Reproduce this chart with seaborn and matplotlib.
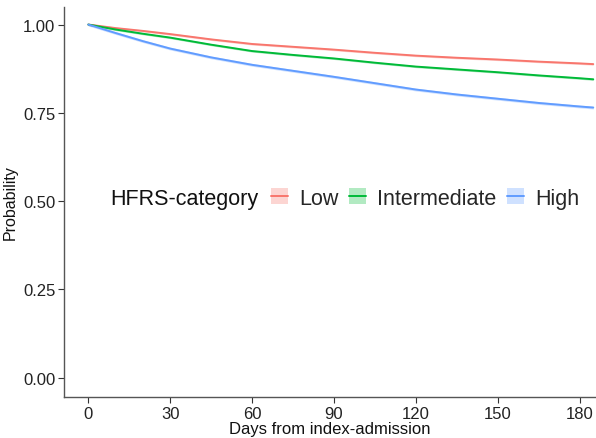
import numpy as np
import pandas as pd
import seaborn as sns
import matplotlib.pyplot as plt
from matplotlib.patches import Patch
from matplotlib.lines import Line2D

# values
days = [0, 5, 10, 20, 30, 45, 60, 75, 90, 105, 120, 135, 150, 165, 180, 185]
low = [1.0, 0.995, 0.990, 0.982, 0.973, 0.958, 0.945, 0.937, 0.929, 0.920,
       0.912, 0.906, 0.901, 0.895, 0.890, 0.888]
intermediate = [1.0, 0.993, 0.986, 0.974, 0.963, 0.943, 0.925, 0.914, 0.904,
                0.892, 0.881, 0.873, 0.865, 0.856, 0.848, 0.845]
high = [1.0, 0.988, 0.976, 0.953, 0.932, 0.907, 0.886, 0.869, 0.852, 0.834,
        0.816, 0.802, 0.790, 0.778, 0.768, 0.765]
ci_half = {"Low": 0.003, "Intermediate": 0.003, "High": 0.004}

groups = ["Low", "Intermediate", "High"]
colors = ["#F8766D", "#00BA38", "#619CFF"]
x_ticks = [0, 30, 60, 90, 120, 150, 180]
y_ticks = [0.0, 0.25, 0.5, 0.75, 1.0]

df = pd.concat([
    pd.DataFrame({"day": days, "prob": vals, "group": g})
    for g, vals in zip(groups, [low, intermediate, high])
])

sns.set_theme(style="white")
plt.rcParams["font.family"] = ["Liberation Sans", "DejaVu Sans"]

fig = plt.figure(figsize=(5.96, 4.39), dpi=100)
ax = fig.add_axes([0.107, 0.093, 0.893, 0.889])

palette = dict(zip(groups, colors))
for g in groups:
    sub = df[df["group"] == g]
    ax.fill_between(sub["day"], sub["prob"] - ci_half[g], sub["prob"] + ci_half[g],
                    color=palette[g], alpha=0.3, linewidth=0)
sns.lineplot(data=df, x="day", y="prob", hue="group", palette=palette,
             linewidth=1.4, legend=False, ax=ax)

ax.set_xlim(-9, 186)
ax.set_ylim(-0.055, 1.05)
ax.set_xticks(x_ticks)
ax.set_yticks(y_ticks)
ax.set_yticklabels([f"{v:.2f}" for v in y_ticks])
ax.tick_params(axis="both", labelsize=12, colors="#333333", length=4, width=0.8,
               direction="out", left=True, bottom=True, pad=2)
for lab in ax.get_xticklabels() + ax.get_yticklabels():
    lab.set_color("#222222")
ax.set_xlabel("Days from index-admission", fontsize=12, color="#111111", labelpad=0)
ax.set_ylabel("Probability", fontsize=11.5, color="#111111", labelpad=3.5)
for side in ["top", "right"]:
    ax.spines[side].set_visible(False)
for side in ["left", "bottom"]:
    ax.spines[side].set_color("#555555")
    ax.spines[side].set_linewidth(1.0)

handles = [(Patch(facecolor=c, alpha=0.3, edgecolor="none"),
            Line2D([], [], color=c, linewidth=1.4)) for c in colors]
ax.text(0.088, 0.51, "HFRS-category", transform=ax.transAxes, fontsize=15.5,
        va="center", ha="left", color="#111111")
ax.legend(handles, groups, ncol=3, loc="center left", bbox_to_anchor=(0.389, 0.51),
          frameon=False, fontsize=15.5, borderpad=0, borderaxespad=0,
          handlelength=0.8, handleheight=0.8, handletextpad=0.5, columnspacing=0.5)

fig.savefig("out.png", dpi=100)
